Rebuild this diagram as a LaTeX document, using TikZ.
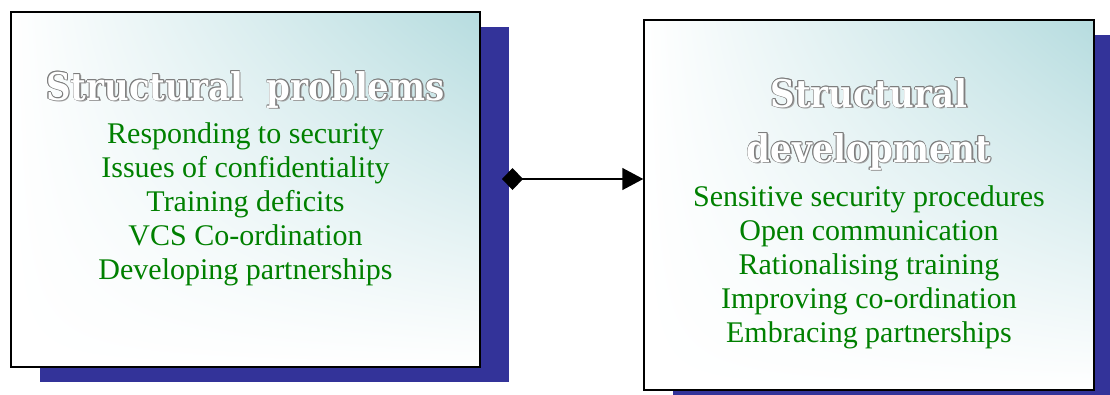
\documentclass[tikz,border=0pt]{standalone}
\usepackage{fontspec}
\setmainfont{Liberation Serif}
\newfontfamily\ttlfont{DejaVu Serif}
\usetikzlibrary{shadows,shadings,arrows.meta}
\definecolor{shadowblue}{RGB}{51,51,153}
\definecolor{tealc}{RGB}{182,220,223}
\definecolor{itemgreen}{RGB}{0,128,0}
\definecolor{outlinegray}{RGB}{125,125,125}
\definecolor{dropgray}{RGB}{160,160,160}
\newcommand\oltinner[1]{\leavevmode
  \rlap{\hspace{1.6pt}\raisebox{-1.6pt}{\color{dropgray}#1}}%
  \rlap{\hspace{0.7pt}\color{outlinegray}#1}%
  \rlap{\hspace{-0.7pt}\color{outlinegray}#1}%
  \rlap{\raisebox{0.7pt}{\color{outlinegray}#1}}%
  \rlap{\raisebox{-0.7pt}{\color{outlinegray}#1}}%
  \rlap{\hspace{0.5pt}\raisebox{0.5pt}{\color{outlinegray}#1}}%
  \rlap{\hspace{-0.5pt}\raisebox{0.5pt}{\color{outlinegray}#1}}%
  \rlap{\hspace{0.5pt}\raisebox{-0.5pt}{\color{outlinegray}#1}}%
  \rlap{\hspace{-0.5pt}\raisebox{-0.5pt}{\color{outlinegray}#1}}%
  {\color{white}#1}}
\newcommand\olt[1]{\scalebox{1}[1.12]{\oltinner{#1}}}
\tikzset{
  panel/.style={draw=black, line width=1.5pt, rectangle, inner sep=0pt,
    upper right=tealc, upper left=white, lower left=white, lower right=white,
    drop shadow={shadow xshift=29pt, shadow yshift=-15pt, fill=shadowblue, opacity=1}},
  ttl/.style={font=\ttlfont\bfseries\fontsize{34}{55}\selectfont, align=center, inner sep=0pt},
  items/.style={font=\fontsize{30}{34}\selectfont, text=itemgreen, align=center, inner sep=0pt},
  conn/.style={line width=1.5pt, {Diamond[length=21pt,width=22pt]}-{Triangle[length=21pt,width=22pt]}}
}
\begin{document}
\begin{tikzpicture}[x=1pt,y=-1pt]
\useasboundingbox (0,0) rectangle (1110,394);
\node[panel, minimum width=469pt, minimum height=355pt] (lbox) at (245.5,189.5) {};
\node[panel, minimum width=450pt, minimum height=370pt] (rbox) at (869,205) {};
\node[ttl, anchor=base] (ltitle) at (245.5,100) {\olt{Structural\ \ problems}};
\node[ttl, anchor=base] (rtitle1) at (869,107) {\olt{Structural}};
\node[ttl, anchor=base] (rtitle2) at (869,162) {\olt{development}};
\node[items, anchor=base] (litems) at (245.5,279) {Responding to security\\Issues of confidentiality\\Training deficits\\VCS Co-ordination\\Developing partnerships};
\node[items, anchor=base] (ritems) at (869,342) {Sensitive security procedures\\Open communication\\Rationalising training\\Improving co-ordination\\Embracing partnerships};
\coordinate (cstart) at (502,179);
\draw[conn] (cstart) -- (cstart -| rbox.west);
\end{tikzpicture}
\end{document}
